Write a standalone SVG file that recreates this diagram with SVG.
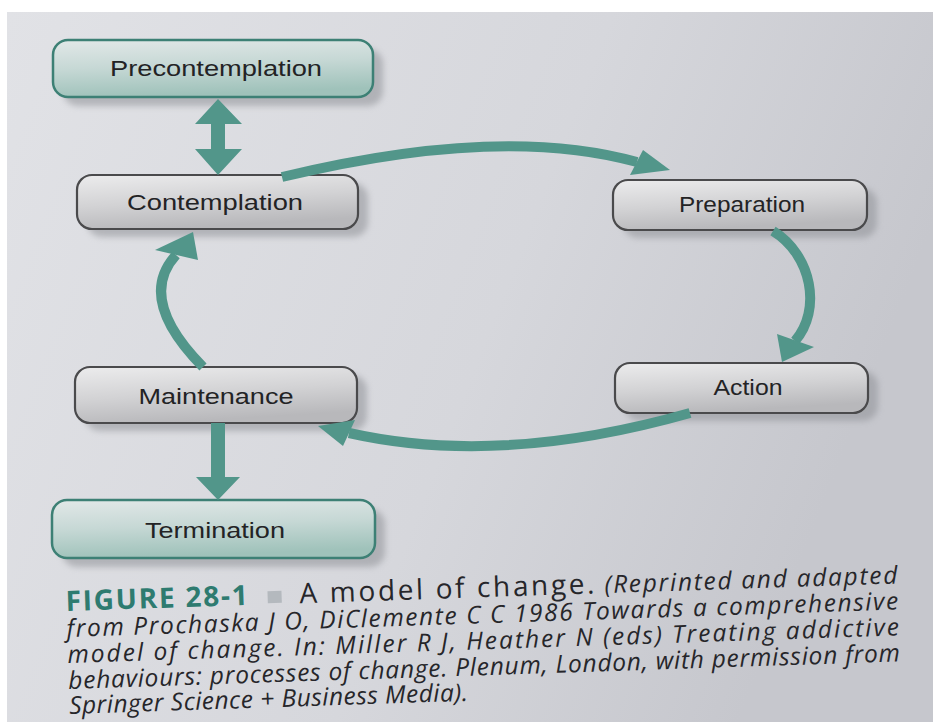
<svg xmlns="http://www.w3.org/2000/svg" width="933" height="722" viewBox="0 0 933 722">
<defs>
<linearGradient id="page" x1="0" y1="0" x2="1" y2="0.3">
<stop offset="0" stop-color="#e1e2e6"/>
<stop offset="0.6" stop-color="#d6d7dc"/>
<stop offset="1" stop-color="#c6c7cd"/>
</linearGradient>
<linearGradient id="tealFill" x1="0" y1="0" x2="0.2" y2="1">
<stop offset="0" stop-color="#e2e8e8"/>
<stop offset="0.5" stop-color="#c6d8d5"/>
<stop offset="1" stop-color="#9fc2ba"/>
</linearGradient>
<linearGradient id="grayFill" x1="0" y1="0" x2="0.3" y2="1">
<stop offset="0" stop-color="#ececed"/>
<stop offset="0.55" stop-color="#d2d2d4"/>
<stop offset="1" stop-color="#b8b8bb"/>
</linearGradient>
<filter id="blur" x="-10%" y="-30%" width="120%" height="160%">
<feGaussianBlur stdDeviation="3"/>
</filter>
<style>
.shadow{fill:#8f9196;opacity:.55;filter:url(#blur)}
.teal{fill:url(#tealFill);stroke:#3d8075;stroke-width:2.5}
.gray{fill:url(#grayFill);stroke:#4a4a4c;stroke-width:2.2}
.lbl{font-family:"Liberation Sans",Arial,sans-serif;font-size:22px;fill:#232325;text-anchor:middle}
.arc{fill:none;stroke:#52968a;stroke-width:10}
.head{fill:#52968a}
.cap{font-family:"Open Sans","Noto Sans",sans-serif;font-size:24.5px;fill:#26262a}
.it{font-style:italic}
.fig{font-weight:bold;font-size:28px;fill:#2e7b70}
.big{font-size:28px}
</style>
</defs>

<rect x="0" y="0" width="933" height="722" fill="#ffffff"/>
<rect x="7" y="12" width="926" height="710" fill="url(#page)"/>

<g id="precontemplation">
<rect class="shadow" x="63" y="49" width="320" height="57" rx="15"/>
<rect class="teal" x="53" y="40" width="320" height="57" rx="15"/>
<text class="lbl" x="216" y="76" textLength="212" lengthAdjust="spacingAndGlyphs">Precontemplation</text>
</g>

<g id="contemplation">
<rect class="shadow" x="87" y="183" width="281" height="54" rx="15"/>
<rect class="gray" x="77" y="175" width="281" height="54" rx="15"/>
<text class="lbl" x="215" y="210" textLength="176" lengthAdjust="spacingAndGlyphs">Contemplation</text>
</g>

<g id="preparation">
<rect class="shadow" x="623" y="188" width="254" height="50" rx="15"/>
<rect class="gray" x="613" y="180" width="254" height="50" rx="15"/>
<text class="lbl" x="742" y="212" textLength="126" lengthAdjust="spacingAndGlyphs">Preparation</text>
</g>

<g id="action">
<rect class="shadow" x="625" y="371" width="253" height="50" rx="15"/>
<rect class="gray" x="615" y="363" width="253" height="50" rx="15"/>
<text class="lbl" x="748" y="395" textLength="69" lengthAdjust="spacingAndGlyphs">Action</text>
</g>

<g id="maintenance">
<rect class="shadow" x="85" y="375" width="282" height="56" rx="15"/>
<rect class="gray" x="75" y="367" width="282" height="56" rx="15"/>
<text class="lbl" x="216" y="404" textLength="155" lengthAdjust="spacingAndGlyphs">Maintenance</text>
</g>

<g id="termination">
<rect class="shadow" x="62" y="509" width="323" height="58" rx="15"/>
<rect class="teal" x="52" y="500" width="323" height="58" rx="15"/>
<text class="lbl" x="215" y="538" textLength="140" lengthAdjust="spacingAndGlyphs">Termination</text>
</g>

<g id="connectors">
<polygon class="head" points="218,99 242,124 225,124 225,149 242,149 218,175 195,149 211,149 211,124 195,124"/>
<polygon class="head" points="211,423 225,423 225,477 240,477 218,500 196,477 211,477"/>
<path class="arc" d="M282 177 Q501 124 637 162" stroke-width="9"/>
<polygon class="head" points="643,150 670,170 630,175"/>
<path class="arc" d="M773 231 C812 255 822 310 795 341"/>
<polygon class="head" points="777,334 814,347 782,362"/>
<path class="arc" d="M690 413 Q500 467 349 433"/>
<polygon class="head" points="355,420 318,426 343,446"/>
<path class="arc" d="M203 367 Q136 299 176 255" stroke-width="11"/>
<polygon class="head" points="155,250 193,232 198,260"/>
</g>

<g id="caption" transform="rotate(-1.9 66 611)">
<text class="cap fig" x="66" y="611" textLength="182" lengthAdjust="spacing">FIGURE 28-1</text>
<rect x="268" y="598" width="14" height="12" fill="#b4b9be"/>
<text class="cap big" x="300" y="611" textLength="295" lengthAdjust="spacing">A model of change.</text>
<text class="cap it" x="605" y="611" textLength="293" lengthAdjust="spacing">(Reprinted and adapted</text>
<text class="cap it" x="66" y="637" textLength="832" lengthAdjust="spacing">from Prochaska J O, DiClemente C C 1986 Towards a comprehensive</text>
<text class="cap it" x="66" y="663" textLength="832" lengthAdjust="spacing">model of change. In: Miller R J, Heather N (eds) Treating addictive</text>
<text class="cap it" x="66" y="689" textLength="832" lengthAdjust="spacing">behaviours: processes of change. Plenum, London, with permission from</text>
<text class="cap it" x="66" y="714" textLength="399" lengthAdjust="spacing">Springer Science + Business Media).</text>
</g>
</svg>
